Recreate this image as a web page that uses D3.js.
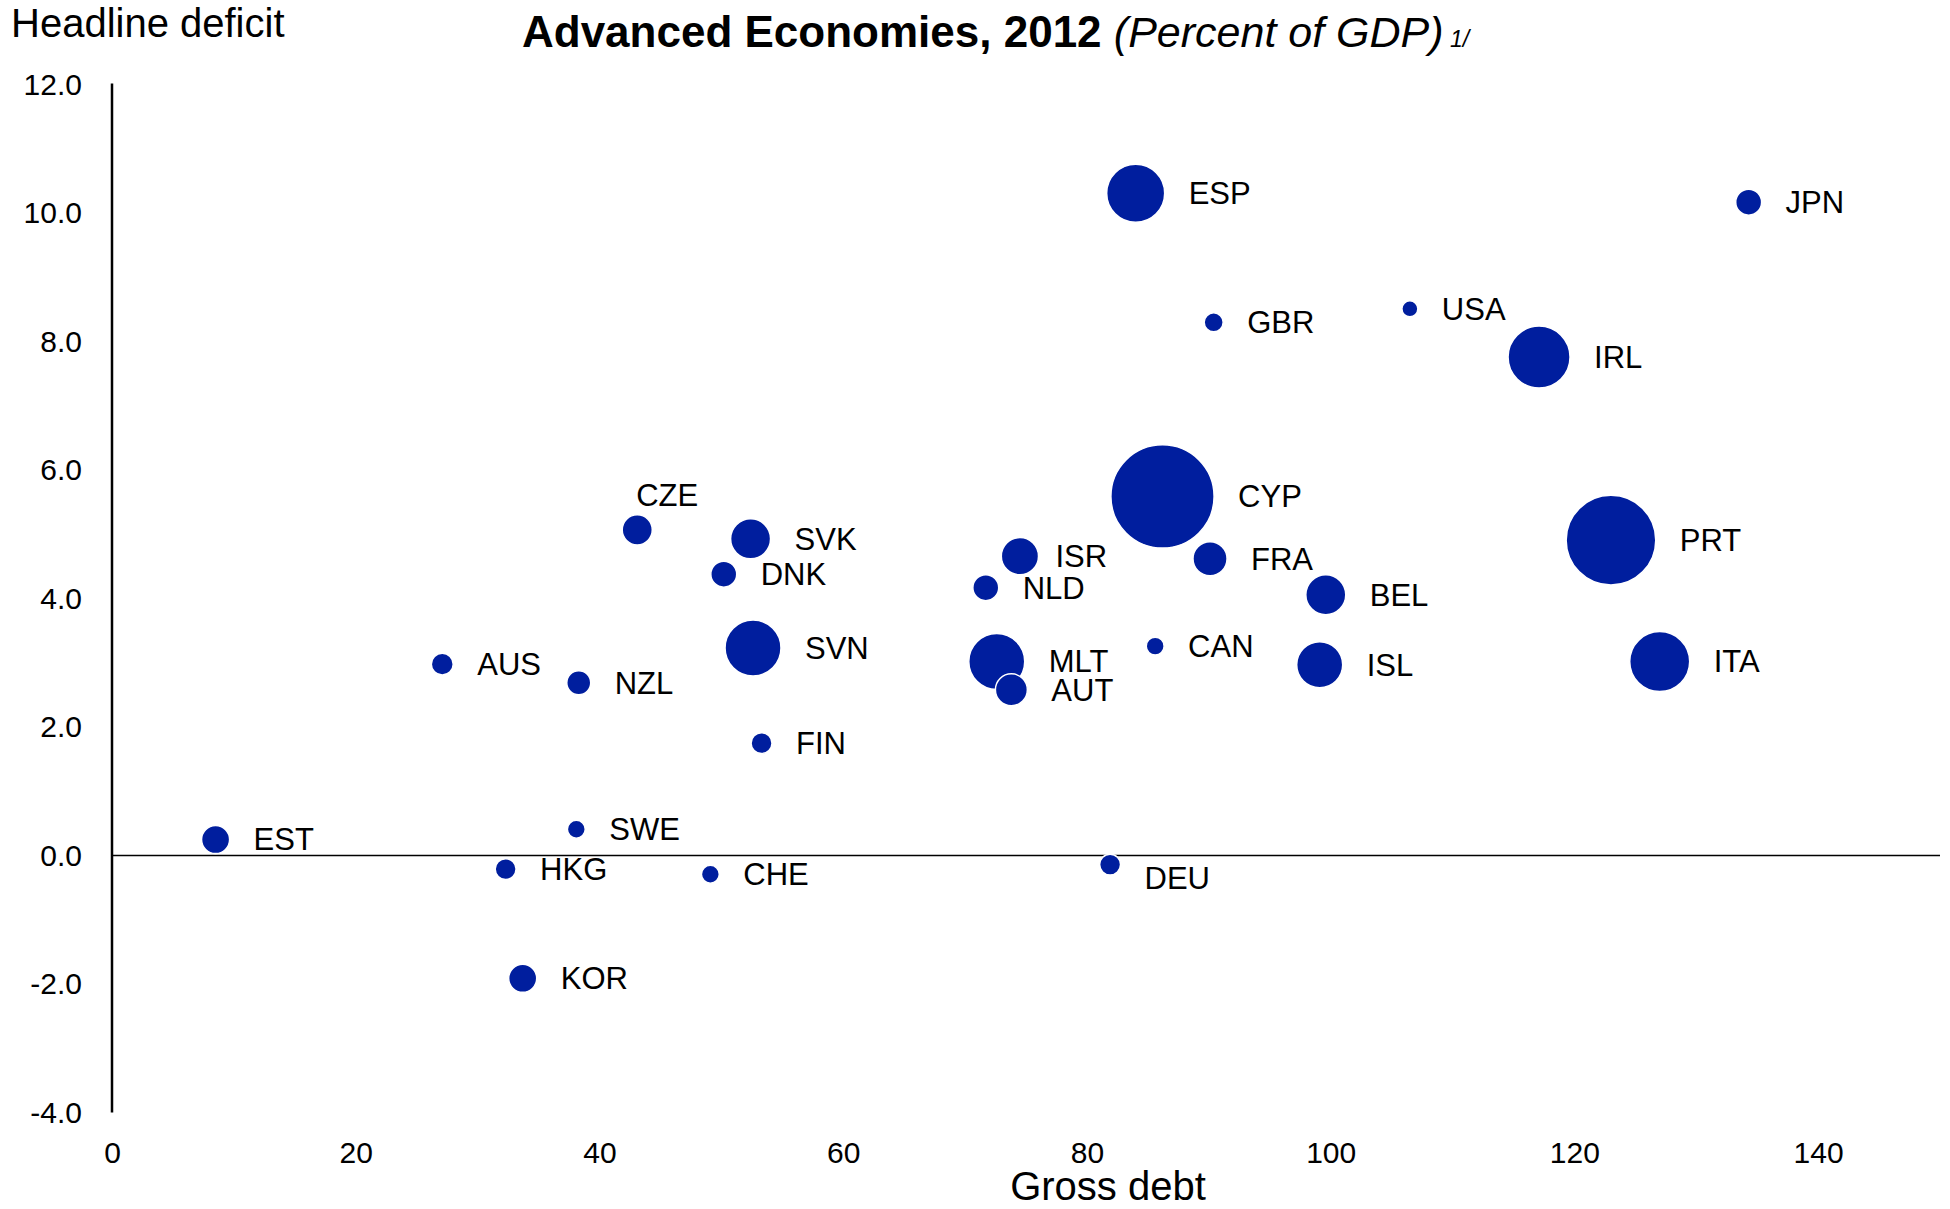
<!DOCTYPE html>
<html>
<head>
<meta charset="utf-8">
<script src="https://cdn.jsdelivr.net/npm/d3@7"></script>
<style>
  html, body { margin: 0; padding: 0; background: #fff; }
  svg { display: block; font-family: "Liberation Sans", Arial, Helvetica, sans-serif; }
</style>
</head>
<body>
<svg id="chart" width="1950" height="1209"></svg>
<script>
// ---- data ----
const countries = ["CYP","PRT","IRL","ITA","ESP","SVN","MLT","ISL","SVK","BEL","ISR","FRA","AUT","CZE","KOR","EST","DNK","NLD","JPN","NZL","AUS","FIN","HKG","DEU","GBR","CAN","SWE","CHE","USA"];
const grossDebt = [86.2,123.0,117.1,127.0,84.0,52.6,72.6,99.1,52.4,99.6,74.5,90.1,73.8,43.1,33.7,8.5,50.2,71.7,134.3,38.3,27.1,53.3,32.3,81.9,90.4,85.6,38.1,49.1,106.5];
const headlineDeficit = [5.59,4.91,7.76,3.02,10.31,3.23,3.02,2.97,4.93,4.06,4.66,4.62,2.58,5.07,-1.91,0.25,4.38,4.17,10.17,2.69,2.98,1.75,-0.21,-0.14,8.30,3.26,0.41,-0.29,8.51];
const bubbleSize = [100,75.4,36.1,33.8,31.6,29.4,29.4,19.9,15.0,15.0,13.0,10.9,9.6,8.5,7.4,7.4,6.3,6.3,6.3,5.4,4.5,4.1,4.1,4.1,3.4,3.0,3.0,3.0,2.4];
const xTicks = [0,20,40,60,80,100,120,140];
const yTicks = [-4,-2,0,2,4,6,8,10,12];

// label placement exceptions (style, not data)
const labelAdjust = { CZE: {mode: "above"}, DEU: {dy: 14}, ISR: {dx: -7} };

const rows = countries.map((c, i) => ({ c, x: grossDebt[i], y: headlineDeficit[i], s: bubbleSize[i] }));

const svg = d3.select("#chart");
const W = 1950, H = 1209;
svg.append("rect").attr("width", W).attr("height", H).attr("fill", "#fff");

const x = d3.scaleLinear().domain([0, 150]).range([112, 1940]);
const y = d3.scaleLinear().domain([-4, 12]).range([1112.6, 84.6]);
const r = d3.scaleSqrt().domain([0, 100]).range([0, 51.6]);
const blue = "#001E9E";
const font = 30;
const fmt1 = v => d3.format(".1f")(v).replace("\u2212", "-");

// y axis (labels only) + vertical line
const yAxis = d3.axisLeft(y).tickValues(yTicks).tickFormat(fmt1).tickSize(0).tickPadding(30);
const gy = svg.append("g").attr("transform", `translate(${x(0)},0)`).call(yAxis);
gy.select(".domain").remove();
gy.selectAll("text").attr("font-size", font).attr("fill", "#000")
  .style("font-family", '"Liberation Sans", Arial, Helvetica, sans-serif');
svg.append("line").attr("x1", x(0)).attr("x2", x(0)).attr("y1", y(12) - 1).attr("y2", y(-4))
  .attr("stroke", "#000").attr("stroke-width", 2.5);

// x axis (labels only) at the bottom
const xAxis = d3.axisBottom(x).tickValues(xTicks).tickFormat(d3.format("d")).tickSize(0).tickPadding(29);
const gx = svg.append("g").attr("transform", `translate(0,${y(-4)})`).call(xAxis);
gx.select(".domain").remove();
gx.selectAll("text").attr("font-size", font).attr("fill", "#000")
  .style("font-family", '"Liberation Sans", Arial, Helvetica, sans-serif');

// zero line
svg.append("line").attr("x1", x(0)).attr("x2", x(150)).attr("y1", y(0)).attr("y2", y(0))
  .attr("stroke", "#000").attr("stroke-width", 1.5);

// bubbles (largest first, smaller on top)
const sorted = rows.slice().sort((a, b) => b.s - a.s);
svg.append("g").selectAll("circle").data(sorted).join("circle")
  .attr("cx", d => x(d.x)).attr("cy", d => y(d.y)).attr("r", d => r(d.s))
  .attr("fill", blue).attr("stroke", "#fff").attr("stroke-width", 1.5);

// labels
svg.append("g").selectAll("text").data(rows).join("text")
  .attr("x", d => {
    const a = labelAdjust[d.c] || {};
    if (a.mode === "above") return x(d.x) - 1;
    return x(d.x) + r(d.s) + 24 + (a.dx || 0);
  })
  .attr("y", d => {
    const a = labelAdjust[d.c] || {};
    if (a.mode === "above") return y(d.y) - 35;
    return y(d.y) + (a.dy || 0);
  })
  .attr("dy", "0.35em")
  .attr("font-size", 31).attr("fill", "#000")
  .text(d => d.c);

// axis titles
svg.append("text").attr("x", 11).attr("y", 37).attr("font-size", 40).attr("fill", "#000").text("Headline deficit");
svg.append("text").attr("x", 1108).attr("y", 1200).attr("text-anchor", "middle").attr("font-size", 40).attr("fill", "#000").text("Gross debt");

// chart title
const t = svg.append("text").attr("x", 522).attr("y", 47).attr("fill", "#000");
t.append("tspan").attr("font-size", 44).attr("font-weight", "bold").text("Advanced Economies, 2012 ");
t.append("tspan").attr("font-size", 43).attr("font-style", "italic").text("(Percent of GDP)");
t.append("tspan").attr("font-size", 23).attr("font-style", "italic").text(" 1/");
</script>
</body>
</html>
